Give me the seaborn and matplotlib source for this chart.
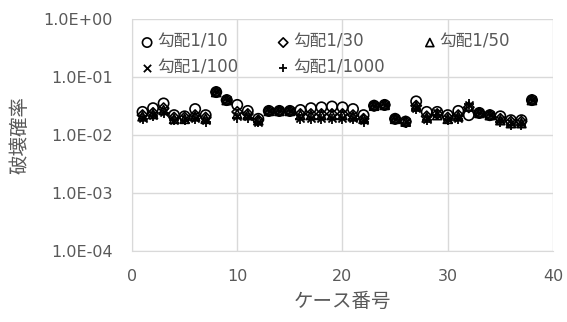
import numpy as np
import pandas as pd
import matplotlib
matplotlib.use('Agg')
import matplotlib.pyplot as plt
import seaborn as sns
from matplotlib.ticker import FuncFormatter, FixedLocator

cases = list(range(1, 39))
# 破壊確率 per slope
p_10 = [0.025, 0.029, 0.035, 0.022, 0.021, 0.028, 0.022, 0.055, 0.040, 0.033,
        0.026, 0.019, 0.026, 0.026, 0.026, 0.027, 0.029, 0.030, 0.031, 0.030,
        0.028, 0.022, 0.032, 0.033, 0.019, 0.017, 0.038, 0.025, 0.025, 0.022,
        0.026, 0.022, 0.024, 0.022, 0.021, 0.018, 0.018, 0.040]
p_30 = [0.022, 0.024, 0.029, 0.020, 0.020, 0.022, 0.020, 0.055, 0.040, 0.025,
        0.023, 0.018, 0.026, 0.026, 0.026, 0.023, 0.023, 0.023, 0.023, 0.023,
        0.022, 0.019, 0.032, 0.033, 0.019, 0.017, 0.032, 0.021, 0.023, 0.020,
        0.022, 0.030, 0.024, 0.022, 0.019, 0.017, 0.017, 0.040]
p_50 = [0.021, 0.023, 0.027, 0.019, 0.019, 0.021, 0.019, 0.055, 0.040, 0.023,
        0.022, 0.018, 0.026, 0.026, 0.026, 0.022, 0.022, 0.022, 0.022, 0.022,
        0.021, 0.019, 0.032, 0.033, 0.019, 0.017, 0.031, 0.020, 0.022, 0.019,
        0.021, 0.031, 0.024, 0.022, 0.018, 0.016, 0.016, 0.040]
p_100 = [0.020, 0.022, 0.025, 0.018, 0.019, 0.020, 0.018, 0.055, 0.040, 0.021,
         0.021, 0.017, 0.026, 0.026, 0.026, 0.020, 0.020, 0.020, 0.020, 0.020,
         0.020, 0.018, 0.032, 0.033, 0.019, 0.017, 0.029, 0.019, 0.024, 0.019,
         0.020, 0.033, 0.024, 0.022, 0.018, 0.016, 0.016, 0.040]
p_1000 = [0.019, 0.021, 0.024, 0.018, 0.018, 0.019, 0.017, 0.055, 0.040, 0.020,
          0.020, 0.017, 0.026, 0.026, 0.026, 0.019, 0.019, 0.019, 0.019, 0.019,
          0.019, 0.017, 0.032, 0.033, 0.019, 0.016, 0.028, 0.018, 0.022, 0.018,
          0.019, 0.034, 0.024, 0.022, 0.017, 0.015, 0.015, 0.040]

labels = ['勾配1/10', '勾配1/30', '勾配1/50', '勾配1/100', '勾配1/1000']
series = [p_10, p_30, p_50, p_100, p_1000]

sns.set_style('white')
plt.rcParams['font.family'] = ['DejaVu Sans', 'Noto Sans CJK JP']

fig = plt.figure(figsize=(5.67, 3.22), dpi=100)
ax = fig.add_axes([0.2328, 0.2205, 0.7425, 0.7205])

grey = '#595959'
grid_c = '#d9d9d9'

# hollow markers first, then line markers
styles = [
    dict(marker='o', s=55, facecolor='none', edgecolor='black', linewidth=1.2),
    dict(marker='D', s=28, facecolor='none', edgecolor='black', linewidth=1.2),
    dict(marker='^', s=42, facecolor='none', edgecolor='black', linewidth=1.2),
    dict(marker='x', s=34, color='black', linewidth=1.3),
    dict(marker='+', s=44, color='black', linewidth=1.3),
]
for lab, vals, st in zip(labels, series, styles):
    df = pd.DataFrame({'case': cases, 'p': vals})
    sns.scatterplot(data=df, x='case', y='p', ax=ax, label=lab, zorder=3, **st)

ax.set_yscale('log')
ax.set_ylim(1e-4, 1)
ax.set_xlim(0, 40)
ax.yaxis.set_major_locator(FixedLocator([1e-4, 1e-3, 1e-2, 1e-1, 1]))
ax.yaxis.set_minor_locator(FixedLocator([]))
ax.yaxis.set_major_formatter(FuncFormatter(lambda v, p: '1.0E' + ('+' if v >= 1 else '-') + '%02d' % abs(int(round(np.log10(v))))))
ax.set_xticks([0, 10, 20, 30, 40])

ax.grid(True, color=grid_c, linewidth=1)
ax.set_axisbelow(True)
for sp in ax.spines.values():
    sp.set_visible(False)
ax.spines['left'].set_visible(True)
ax.spines['left'].set_color(grid_c)
ax.spines['bottom'].set_visible(True)
ax.spines['bottom'].set_color(grid_c)

ax.tick_params(axis='both', length=0, labelsize=11.5, labelcolor=grey)
ax.tick_params(axis='x', pad=13)
ax.tick_params(axis='y', pad=14)
ax.set_xlabel('ケース番号', fontsize=14, color=grey, labelpad=6)
ax.set_ylabel('破壊確率', fontsize=14, color=grey, labelpad=10)

# row-major order like the original: 1/10 1/30 1/50 / 1/100 1/1000
h, l = ax.get_legend_handles_labels()
order = [0, 3, 1, 4, 2]
leg = ax.legend([h[i] for i in order], [l[i] for i in order],
                loc='upper left', ncol=3, frameon=False, fontsize=12,
                labelcolor=grey, handletextpad=0.2, columnspacing=2.3,
                borderpad=0, borderaxespad=0, handlelength=0.8,
                labelspacing=0.45, markerscale=0.9,
                bbox_to_anchor=(0.02, 0.94))

fig.savefig('out.png', dpi=100)
